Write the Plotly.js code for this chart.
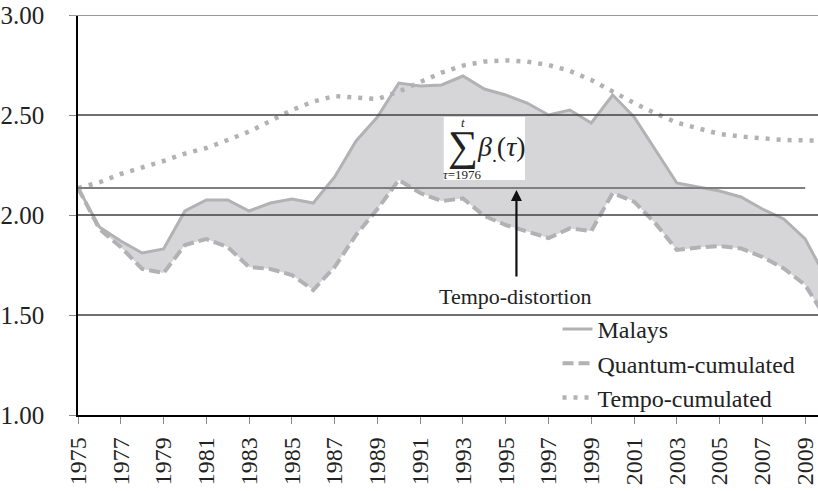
<!DOCTYPE html>
<html>
<head>
<meta charset="utf-8">
<script src="https://cdn.plot.ly/plotly-3.0.1.min.js"></script>
<style>html,body{margin:0;padding:0;background:#fff;}</style>
</head>
<body>
<div id="chart" style="width:818px;height:491px;"></div>
<script>
const years = [1975,1976,1977,1978,1979,1980,1981,1982,1983,1984,1985,1986,1987,1988,1989,1990,1991,1992,1993,1994,1995,1996,1997,1998,1999,2000,2001,2002,2003,2004,2005,2006,2007,2008,2009,2010];
const malays = [2.135,1.94,1.87,1.81,1.83,2.02,2.075,2.075,2.02,2.06,2.08,2.06,2.19,2.37,2.49,2.66,2.645,2.65,2.695,2.63,2.60,2.56,2.50,2.525,2.46,2.60,2.49,2.325,2.16,2.14,2.12,2.09,2.03,1.98,1.88,1.68];
const quantum = [2.135,1.93,1.84,1.73,1.71,1.85,1.88,1.84,1.74,1.73,1.70,1.625,1.74,1.90,2.03,2.175,2.11,2.07,2.083,1.995,1.95,1.917,1.885,1.933,1.92,2.11,2.067,1.958,1.825,1.838,1.845,1.833,1.79,1.733,1.65,1.48];
const tempo = [2.135,2.163,2.205,2.237,2.27,2.307,2.335,2.375,2.417,2.47,2.525,2.567,2.595,2.587,2.58,2.617,2.667,2.712,2.747,2.767,2.773,2.767,2.75,2.72,2.675,2.617,2.56,2.508,2.462,2.433,2.405,2.392,2.382,2.375,2.373,2.373];
const xTickYears = [1975,1977,1979,1981,1983,1985,1987,1989,1991,1993,1995,1997,1999,2001,2003,2005,2007,2009];
const xTickText = xTickYears.map(String);
const yTickVals = [1.0,1.5,2.0,2.5,3.0];
const yTickText = ['1.00','1.50','2.00','2.50','3.00'];
const seriesNames = ['Malays','Quantum-cumulated','Tempo-cumulated'];
const annotationText = 'Tempo-distortion';

const SERIF = 'Liberation Serif';
const lineGray = '#b2b2b4';
const txtColor = '#222222';

const fillTrace = {
  x: years.concat(years.slice().reverse()),
  y: malays.concat(quantum.slice().reverse()),
  type: 'scatter', mode: 'lines', fill: 'toself',
  fillcolor: '#d6d6d8', line: {width: 0}, showlegend: false, hoverinfo: 'skip'
};
const tMalays = {x: years, y: malays, type: 'scatter', mode: 'lines', name: seriesNames[0],
  line: {color: lineGray, width: 3}, legendrank: 1};
const tQuantum = {x: years, y: quantum, type: 'scatter', mode: 'lines', name: seriesNames[1],
  line: {color: lineGray, width: 4, dash: '11px,5px'}, legendrank: 2};
const tTempo = {x: years, y: tempo, type: 'scatter', mode: 'lines', name: seriesNames[2],
  line: {color: lineGray, width: 4.5, dash: '4px,7px'}, legendrank: 3};

const shapes = [];
[1.5, 2.0, 2.5].forEach(v => shapes.push({type: 'line', xref: 'paper', yref: 'y', x0: 0, x1: 1, y0: v, y1: v,
  line: {color: '#404040', width: 1.3}, layer: 'above'}));
shapes.push({type: 'line', xref: 'paper', yref: 'y', x0: -0.01, x1: 1, y0: 3, y1: 3,
  line: {color: '#999999', width: 2}, layer: 'above'});
shapes.push({type: 'line', xref: 'x', yref: 'y', x0: years[0], x1: 2009, y0: malays[0], y1: malays[0],
  line: {color: '#7f7f7f', width: 2}, layer: 'above'});
shapes.push({type: 'rect', xref: 'x', yref: 'y', x0: 1992.1, x1: 1995.9, y0: 2.175, y1: 2.49,
  fillcolor: '#ffffff', line: {width: 0}, layer: 'above'});

const annotations = [
  {x: 1995.5, y: 2.125, ax: 1995.5, ay: 1.685, xref: 'x', yref: 'y', axref: 'x', ayref: 'y',
   text: '', showarrow: true, arrowhead: 2, arrowsize: 1, arrowwidth: 2.2, arrowcolor: '#111'},
  {x: 1995.45, y: 1.595, xref: 'x', yref: 'y', text: annotationText, showarrow: false,
   font: {family: SERIF, size: 22, color: txtColor}},
  {x: 1992.98, y: 2.345, xref: 'x', yref: 'y', text: '\u2211', showarrow: false,
   font: {family: SERIF, size: 42, color: txtColor}},
  {x: 1993.0, y: 2.465, xref: 'x', yref: 'y', text: '<i>t</i>', showarrow: false,
   font: {family: SERIF, size: 13, color: txtColor}},
  {x: 1992.95, y: 2.205, xref: 'x', yref: 'y', text: '<i>\u03c4</i>=1976', showarrow: false,
   font: {family: SERIF, size: 13, color: txtColor}},
  {x: 1994.78, y: 2.335, xref: 'x', yref: 'y', text: '<i>\u03b2</i><sub>.</sub>(<i>\u03c4</i>)', showarrow: false,
   font: {family: SERIF, size: 28, color: txtColor}}
];

const layout = {
  width: 818, height: 491,
  margin: {l: 78, r: 0, t: 15, b: 76, pad: 0},
  paper_bgcolor: '#fff', plot_bgcolor: '#fff',
  showlegend: true,
  legend: {x: 0.648, y: 0.27, xanchor: 'left', yanchor: 'top', bgcolor: 'rgba(0,0,0,0)',
    font: {family: SERIF, size: 24, color: txtColor}, tracegroupgap: 0, itemwidth: 30},
  xaxis: {range: [1975, 2009.6], tickvals: xTickYears, ticktext: xTickText, tickangle: -90,
    ticks: 'outside', ticklen: 7, tickcolor: '#888', tickwidth: 1.3, ticklabeloverflow: 'allow',
    showline: true, linecolor: '#000', linewidth: 1.5, showgrid: false, zeroline: false,
    tickfont: {family: SERIF, size: 24, color: txtColor}, ticklabelstandoff: 4},
  yaxis: {range: [1, 3], tickvals: yTickVals, ticktext: yTickText,
    ticks: 'outside', ticklen: 7, tickcolor: '#888', tickwidth: 1.3,
    showline: true, linecolor: '#000', linewidth: 1.5, showgrid: false, zeroline: false,
    tickfont: {family: SERIF, size: 25, color: txtColor}, ticklabelstandoff: 20},
  shapes: shapes,
  annotations: annotations
};

Plotly.newPlot('chart', [fillTrace, tMalays, tQuantum, tTempo], layout, {displayModeBar: false});
</script>
</body>
</html>
